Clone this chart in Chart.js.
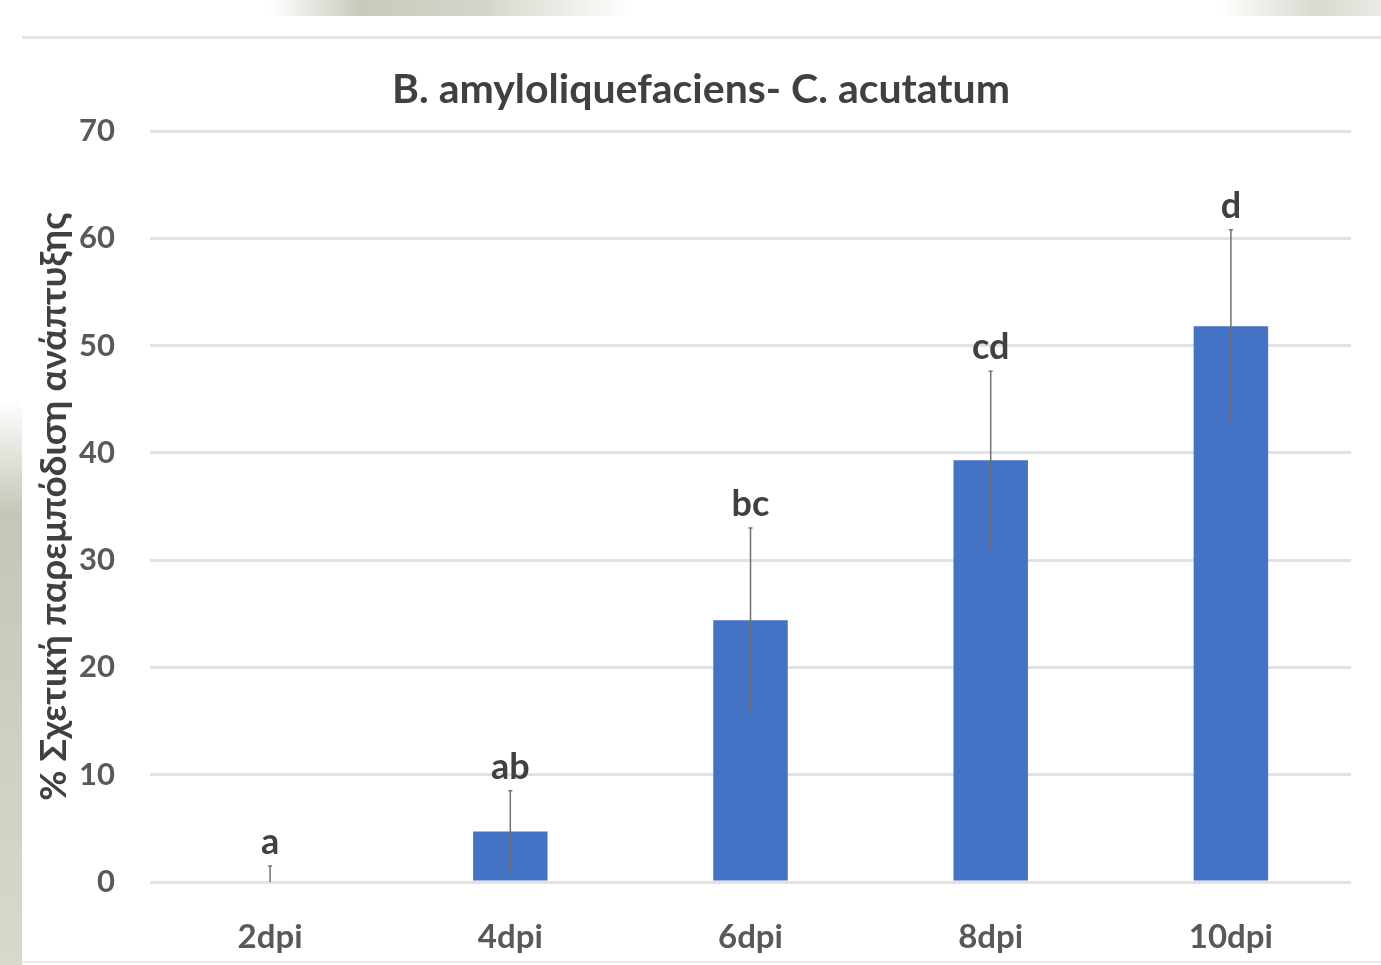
<!DOCTYPE html>
<html>
<head>
<meta charset="utf-8">
<script src="https://cdn.jsdelivr.net/npm/chart.js@4.4.1/dist/chart.umd.min.js"></script>
<style>
    html, body { margin: 0; padding: 0; background: #ffffff; }
    #wrap { position: relative; width: 1381px; height: 965px; overflow: hidden; }
    .blob { position: absolute; }
    #blobTop { left: 270px; top: 0; width: 360px; height: 16px;
        background: linear-gradient(90deg, rgba(255,255,255,0), #c9cabd 25%, #d5d6cb 60%, rgba(255,255,255,0)); }
    #blobRight { left: 1220px; top: 0; width: 161px; height: 16px;
        background: linear-gradient(90deg, rgba(255,255,255,0), #d8d9cf 60%, #e9eae4); }
    #stripLeft { left: 0; top: 400px; width: 22px; height: 565px;
        background: linear-gradient(180deg, rgba(255,255,255,0), #c4c7b7 20%, #cdd1bf 60%, #d6dac9); }
    #lineTop { left: 22px; top: 36px; width: 1359px; height: 3px; background: #e4e4e4; }
    #lineBottom { left: 22px; top: 961px; width: 1359px; height: 2px; background: #ececec; }
    canvas { position: absolute; left: 0; top: 0; }
</style>
</head>
<body>
<div id="wrap">
    <div class="blob" id="blobTop"></div>
    <div class="blob" id="blobRight"></div>
    <div class="blob" id="stripLeft"></div>
    <div class="blob" id="lineTop"></div>
    <div class="blob" id="lineBottom"></div>
    <canvas id="chart" width="1381" height="965"></canvas>
</div>

<script>
/* ==========================================================
   data
========================================================== */

const categories = ["2dpi", "4dpi", "6dpi", "8dpi", "10dpi"];
const means      = [0, 4.7, 24.4, 39.3, 51.8];
const errors     = [1.5, 3.8, 8.6, 8.3, 9.0];
const letters    = ["a", "ab", "bc", "cd", "d"];
const yTicks     = [0, 10, 20, 30, 40, 50, 60, 70];

const chartTitle = "B. amyloliquefaciens- C. acutatum";
const yTitle     = "% Σχετική παρεμπόδιση ανάπτυξης";

const FONT = "Lato, 'Open Sans', sans-serif";

/* ==========================================================
   plugins
========================================================== */

const errorBars = {
    id: "errorBars",
    afterDatasetsDraw(chart) {
        const { ctx, scales: { x, y } } = chart;
        ctx.save();
        categories.forEach((c, i) => {
            const px = x.getPixelForValue(i);
            const top = y.getPixelForValue(means[i] + errors[i]);
            const bot = y.getPixelForValue(Math.max(0, means[i] - errors[i]));
            ctx.strokeStyle = "#707070";
            ctx.lineWidth = 1.5;
            ctx.beginPath();
            ctx.moveTo(px, top);
            ctx.lineTo(px, bot);
            ctx.moveTo(px - 2, top);
            ctx.lineTo(px + 2, top);
            ctx.stroke();

            ctx.fillStyle = "#404040";
            ctx.font = "bold 36px " + FONT;
            ctx.textAlign = "center";
            ctx.textBaseline = "alphabetic";
            ctx.fillText(letters[i], px, top - 12);
        });
        ctx.restore();
    }
};

const titles = {
    id: "titles",
    afterDraw(chart) {
        const { ctx, chartArea } = chart;
        ctx.save();
        ctx.fillStyle = "#404040";
        ctx.font = "bold 41px " + FONT;
        ctx.textAlign = "center";
        ctx.textBaseline = "middle";
        ctx.fillText(chartTitle, 701, 90);

        ctx.translate(54, (chartArea.top + chartArea.bottom) / 2);
        ctx.rotate(-Math.PI / 2);
        ctx.font = "bold 37px " + FONT;
        ctx.fillText(yTitle, 0, 0);
        ctx.restore();
    }
};

/* ==========================================================
   chart
========================================================== */

new Chart(document.getElementById("chart").getContext("2d"), {
    type: "bar",
    data: {
        labels: categories,
        datasets: [{
            data: means,
            backgroundColor: "#4472c4",
            borderWidth: 0,
            barPercentage: 0.31,
            categoryPercentage: 1
        }]
    },
    options: {
        responsive: false,
        animation: false,
        layout: { padding: { top: 131, right: 30, bottom: 0, left: 0 } },
        plugins: {
            legend: { display: false },
            title: { display: false },
            tooltip: { enabled: false }
        },
        scales: {
            x: {
                grid: { display: false, drawTicks: false },
                border: { display: false },
                ticks: {
                    padding: 36,
                    color: "#595959",
                    font: { family: FONT, size: 33, weight: "bold" }
                },
                afterFit(scale) { scale.height = 83; }
            },
            y: {
                min: 0,
                max: 70,
                afterBuildTicks(scale) { scale.ticks = yTicks.map(v => ({ value: v })); },
                grid: { color: "#e2e2e2", lineWidth: 3, drawTicks: false },
                border: { display: false },
                ticks: {
                    padding: 35,
                    color: "#595959",
                    font: { family: FONT, size: 31, weight: "bold" }
                },
                afterFit(scale) { scale.width = 150; }
            }
        }
    },
    plugins: [errorBars, titles]
});
</script>
</body>
</html>
